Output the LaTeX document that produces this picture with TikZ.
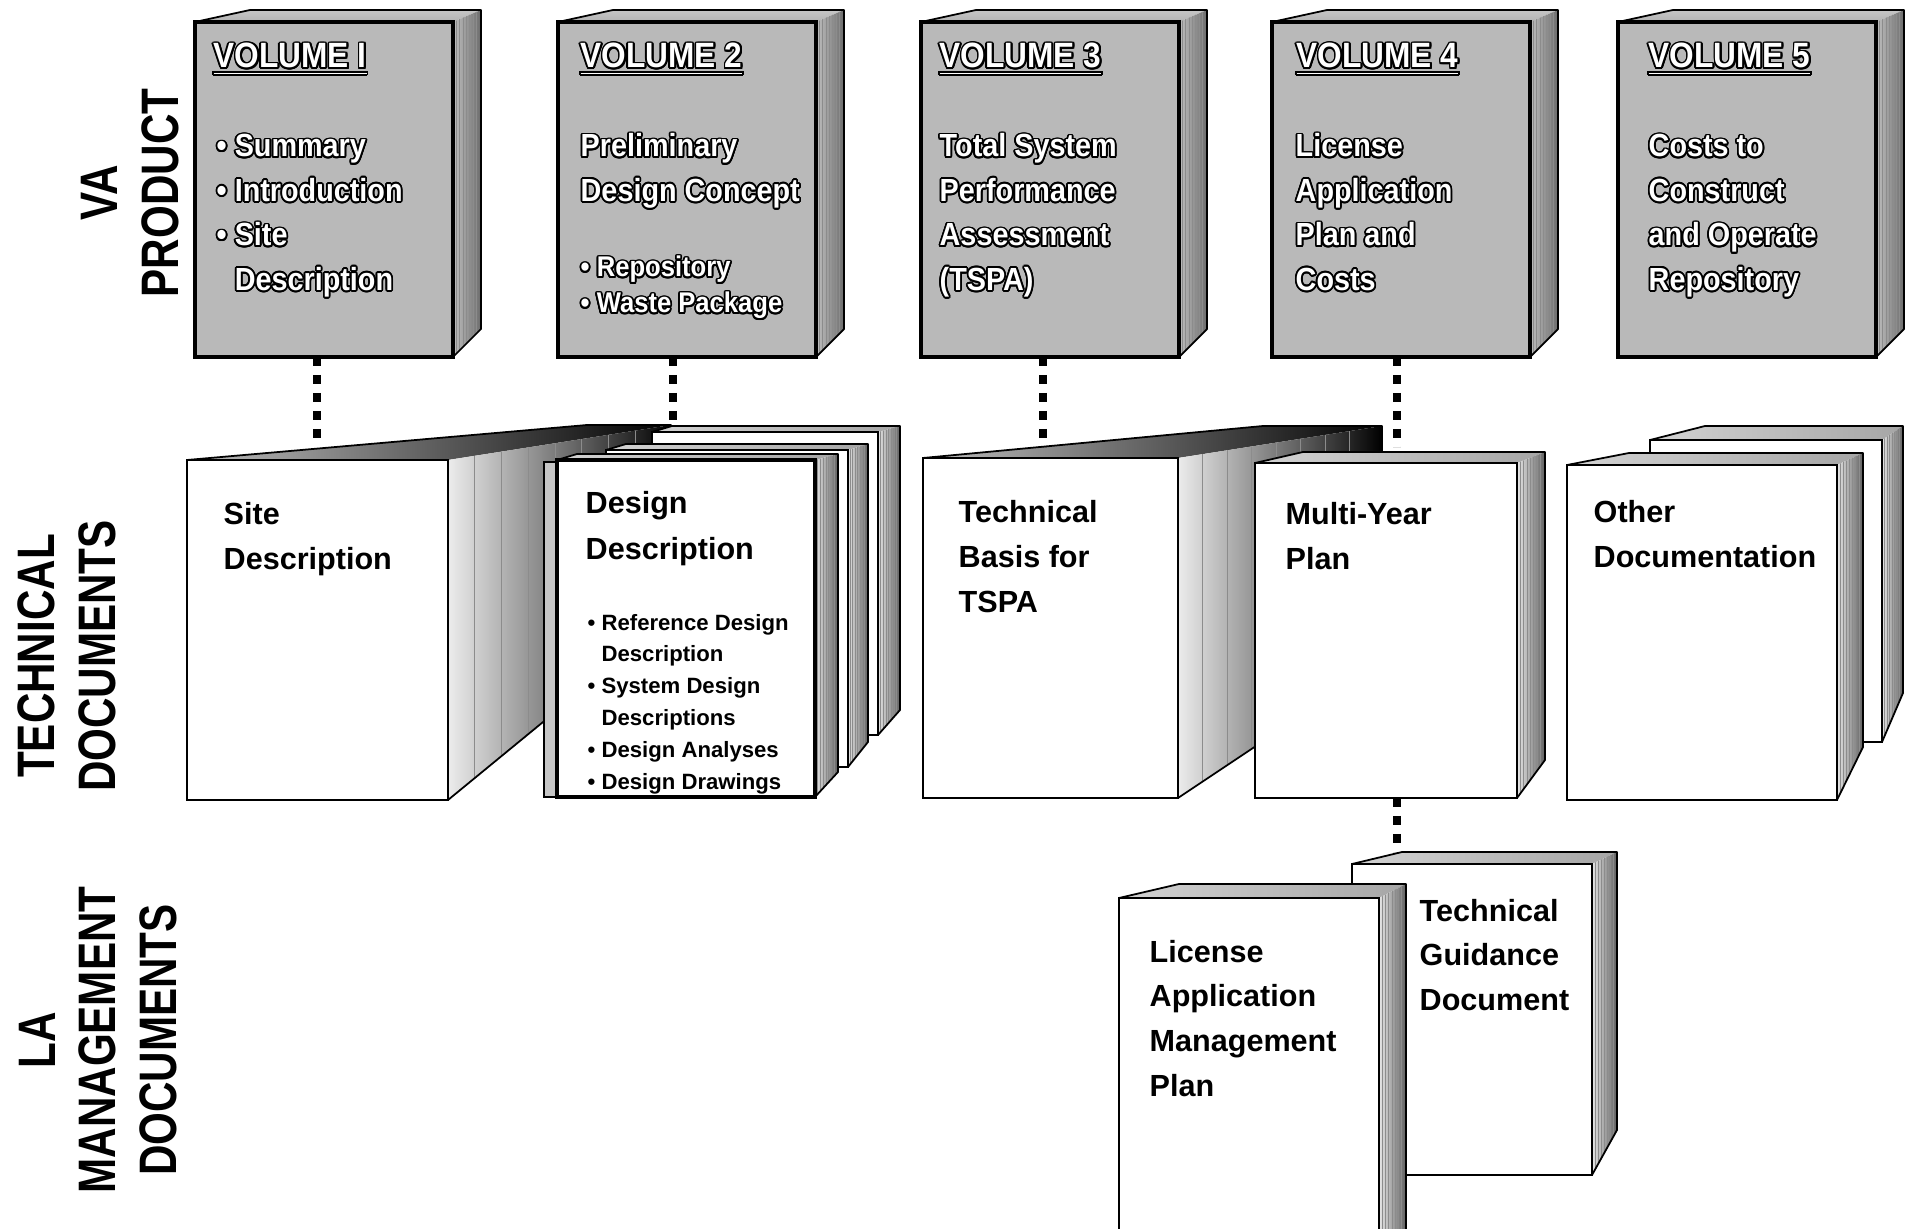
\documentclass[tikz,border=0pt]{standalone}
\usepackage{fontspec}
\setmainfont{Liberation Sans}
\newfontfamily\condfont{Liberation Sans}[FakeStretch=0.9]
\newfontfamily\labelfont{Liberation Sans}[FakeStretch=0.8]
\usepackage{contour}
\contourlength{0.5pt}

% lines of a text block, first baseline on the node's base
\newcommand{\textlines}[1]{\begin{tabular}[t]{@{}l@{}}#1\end{tabular}}

% top face and page edges of a document: x1,y1,x2,y2 of the cover, depth, back rise, top slant, bottom rise, kind
\newcommand{\docstack}[9]{%
  \shade[#9top] (#1,#2) -- ({#1+#7},{#2-#6}) -- ({#3+#5},{#2-#6}) -- (#3,#2) -- cycle;
  \begin{scope}
    \clip (#3,#2) -- ({#3+#5},{#2-#6}) -- ({#3+#5},{#4-#8}) -- (#3,#4) -- cycle;
    \shade[#9side] (#3,{#2-#6}) rectangle ({#3+#5},#4);
    \foreach \k in {0.12,0.24,...,0.96}
      \draw[black!45, line width=0.2pt] ({#3+\k*#5},{#2-#6}) -- ({#3+\k*#5},#4);
  \end{scope}
  \draw[line width=0.5pt, line join=round] (#1,#2) -- ({#1+#7},{#2-#6}) -- ({#3+#5},{#2-#6}) -- ({#3+#5},{#4-#8}) -- (#3,#4);
}

\begin{document}
\begin{tikzpicture}[x=0.1mm, y=-0.1mm,
  vol/.style={draw, line width=0.9pt, fill=gray!55, anchor=north west, inner sep=0pt, outer sep=0pt,
    minimum width=25.8mm, minimum height=33.5mm},
  voltitle/.style={text=white, font=\condfont\bfseries\fontsize{10}{12}\selectfont, anchor=base west, inner sep=0pt},
  voltext/.style={text=white, font=\condfont\bfseries\fontsize{9.1}{12.66}\selectfont, anchor=base west, inner sep=0pt},
  volsmall/.style={text=white, font=\condfont\bfseries\fontsize{8.1}{10.2}\selectfont, anchor=base west, inner sep=0pt},
  docface/.style={draw, line width=0.8pt, fill=white, anchor=north west, inner sep=0pt, outer sep=0pt},
  doctext/.style={font=\bfseries\fontsize{8.7}{12.8}\selectfont, anchor=base west, inner sep=0pt},
  bullettext/.style={font=\bfseries\fontsize{6.3}{9.1}\selectfont, anchor=base west, inner sep=0pt},
  rowlabel/.style={font=\labelfont\bfseries\fontsize{15}{17.3}\selectfont, rotate=90, align=center, inner sep=0pt},
  dotline/.style={line width=0.8mm, dash pattern=on 0.9mm off 0.9mm},
  voltop/.style={top color=gray!45, bottom color=gray!60},
  volside/.style={left color=gray!50, right color=gray!85!black},
  reamtop/.style={left color=gray!50, right color=black},
  reamside/.style={left color=gray!15, right color=black},
  sheettop/.style={left color=gray!35, right color=gray!70},
  sheetside/.style={left color=gray!20, right color=gray!75!black}]

\useasboundingbox (0,0) rectangle (1912,1229);
\clip (0,0) rectangle (1912,1229);

% row labels
\node[rowlabel] (lblva) at (130,193) {VA\\PRODUCT};
\node[rowlabel] (lbltech) at (67,656) {TECHNICAL\\DOCUMENTS};
\node[rowlabel] (lblla) at (98,1040) {LA\\MANAGEMENT\\DOCUMENTS};

% volumes
\foreach \n/\x/\num/\o in {1/195/I/18, 2/558/2/22, 3/921/3/18, 4/1272/4/24, 5/1618/5/30}{
  \docstack{\x}{22}{\x+258}{357}{28}{12}{55}{28}{vol}
  \node[vol] (v\n) at (\x,22) {};
  \node[voltitle] (vt\n) at (\x+\o,68) {\contour{black}{\underline{VOLUME \num}}};
}
\node[voltext] (vb1) at (216,157) {\contour{black}{\textlines{\textbullet\ Summary\\ \textbullet\ Introduction\\ \textbullet\ Site\\ \phantom{\textbullet\ }Description}}};
\node[voltext] (vb2) at (580,157) {\contour{black}{\textlines{Preliminary\\ Design Concept}}};
\node[volsmall] (vb2b) at (580,277) {\contour{black}{\textlines{\textbullet\ Repository\\ \textbullet\ Waste Package}}};
\node[voltext] (vb3) at (939,157) {\contour{black}{\textlines{Total System\\ Performance\\ Assessment\\ (TSPA)}}};
\node[voltext] (vb4) at (1295,157) {\contour{black}{\textlines{License\\ Application\\ Plan and\\ Costs}}};
\node[voltext] (vb5) at (1648,157) {\contour{black}{\textlines{Costs to\\ Construct\\ and Operate\\ Repository}}};

% technical documents
\docstack{187}{460}{448}{800}{223}{35}{400}{183}{ream}
\node[docface, minimum width=26.1mm, minimum height=34mm] (t1) at (187,460) {};
\node[doctext] (t1txt) at (223,525) {\textlines{Site\\ Description}};

\docstack{652}{432}{878}{735}{22}{6}{20}{25}{sheet}
\node[docface, minimum width=22.6mm, minimum height=30.3mm] (d3) at (652,432) {};
\docstack{606}{450}{848}{767}{20}{6}{20}{25}{sheet}
\node[docface, minimum width=24.2mm, minimum height=31.7mm] (d2) at (606,450) {};
\draw[fill=gray!45, line width=0.5pt] (544,462) rectangle (557,797);
\docstack{557}{460}{815}{797}{23}{6}{20}{25}{sheet}
\node[docface, line width=1.3pt, minimum width=25.8mm, minimum height=33.7mm] (t2) at (557,460) {};
\node[doctext, font=\bfseries\fontsize{8.7}{13.3}\selectfont] (t2txt) at (585,513) {\textlines{Design\\ Description}};
\node[bullettext] (t2list) at (587,630) {\textlines{\textbullet\ Reference Design\\ \phantom{\textbullet\ }Description\\ \textbullet\ System Design\\ \phantom{\textbullet\ }Descriptions\\ \textbullet\ Design Analyses\\ \textbullet\ Design Drawings}};

\docstack{923}{458}{1178}{798}{204}{32}{340}{136}{ream}
\node[docface, minimum width=25.5mm, minimum height=34mm] (t3) at (923,458) {};
\node[doctext] (t3txt) at (958,523) {\textlines{Technical\\ Basis for\\ TSPA}};

\docstack{1255}{463}{1517}{798}{28}{11}{48}{38}{sheet}
\node[docface, minimum width=26.2mm, minimum height=33.5mm] (t4) at (1255,463) {};
\node[doctext] (t4txt) at (1285,525) {\textlines{Multi-Year\\ Plan}};

\docstack{1650}{440}{1882}{742}{21}{14}{55}{49}{sheet}
\node[docface, minimum width=23.2mm, minimum height=30.2mm] (o2) at (1650,440) {};
\docstack{1567}{465}{1837}{800}{26}{12}{62}{53}{sheet}
\node[docface, minimum width=27mm, minimum height=33.5mm] (t5) at (1567,465) {};
\node[doctext] (t5txt) at (1593,523) {\textlines{Other\\ Documentation}};

% LA management documents
\docstack{1352}{864}{1592}{1175}{25}{12}{50}{45}{sheet}
\node[docface, minimum width=24mm, minimum height=31.1mm] (l2) at (1352,864) {};
\node[doctext] (l2txt) at (1419,921) {\textlines{Technical\\ Guidance\\ Document}};
\docstack{1119}{898}{1379}{1260}{27}{14}{60}{0}{sheet}
\node[docface, minimum width=26mm, minimum height=36.2mm] (l1) at (1119,898) {};
\node[doctext] (l1txt) at (1149,962) {\textlines{License\\ Application\\ Management\\ Plan}};

% dotted links
\coordinate (c1) at ([xshift=-0.7mm]v1.south);
\coordinate (c2) at ([xshift=-1.4mm]v2.south);
\coordinate (c3) at ([xshift=-0.7mm]v3.south);
\coordinate (c4) at ([xshift=-0.4mm]v4.south);
\coordinate (c5) at ([xshift=1.1mm]t4.south);
\draw[dotline, shorten >=1.4mm] (c1) -- (c1 |- t1.north);
\draw[dotline, shorten >=0.4mm] (c2) -- (c2 |- d3.north);
\draw[dotline, shorten >=1.1mm] (c3) -- (c3 |- t3.north);
\draw[dotline, shorten >=1.6mm] (c4) -- (c4 |- t4.north);
\draw[dotline, shorten >=1.2mm] (c5) -- (c5 |- l2.north);
\end{tikzpicture}
\end{document}
